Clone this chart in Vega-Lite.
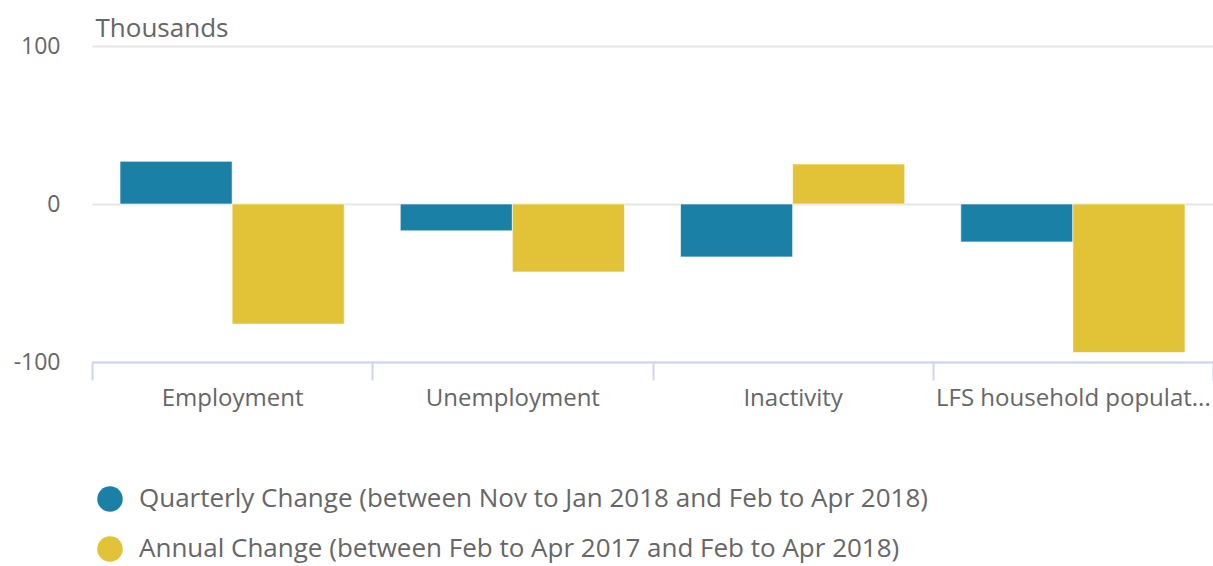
{
  "$schema": "https://vega.github.io/schema/vega-lite/v6.json",
  "autosize": "none",
  "width": 1121,
  "height": 316,
  "padding": {"left": 92, "top": 46, "right": 0, "bottom": 204},
  "background": "white",
  "config": {"font": "Open Sans", "view": {"stroke": null}},
  "data": {
    "values": [
      {"category": "Employment", "series": "Quarterly Change (between Nov to Jan 2018 and Feb to Apr 2018)", "order": 1, "value": 27},
      {"category": "Employment", "series": "Annual Change (between Feb to Apr 2017 and Feb to Apr 2018)", "order": 2, "value": -76},
      {"category": "Unemployment", "series": "Quarterly Change (between Nov to Jan 2018 and Feb to Apr 2018)", "order": 1, "value": -17},
      {"category": "Unemployment", "series": "Annual Change (between Feb to Apr 2017 and Feb to Apr 2018)", "order": 2, "value": -43},
      {"category": "Inactivity", "series": "Quarterly Change (between Nov to Jan 2018 and Feb to Apr 2018)", "order": 1, "value": -33.5},
      {"category": "Inactivity", "series": "Annual Change (between Feb to Apr 2017 and Feb to Apr 2018)", "order": 2, "value": 25.3},
      {"category": "LFS household population", "series": "Quarterly Change (between Nov to Jan 2018 and Feb to Apr 2018)", "order": 1, "value": -24},
      {"category": "LFS household population", "series": "Annual Change (between Feb to Apr 2017 and Feb to Apr 2018)", "order": 2, "value": -94}
    ]
  },
  "mark": {"type": "bar", "stroke": "white", "strokeWidth": 1, "strokeOpacity": 0.6},
  "encoding": {
    "x": {
      "field": "category",
      "type": "nominal",
      "sort": null,
      "scale": {"paddingInner": 0, "paddingOuter": 0},
      "axis": {
        "title": null,
        "labelAngle": 0,
        "labelFontSize": 24,
        "labelColor": "#666666",
        "labelPadding": 6,
        "labelLimit": 300,
        "labelExpr": "datum.label == 'LFS household population' ? 'LFS household populat...' : datum.label",
        "domainColor": "#ccd6eb",
        "domainWidth": 2,
        "tickColor": "#ccd6eb",
        "tickWidth": 2,
        "tickSize": 18,
        "tickBand": "extent",
        "grid": false
      }
    },
    "xOffset": {
      "field": "series",
      "type": "nominal",
      "sort": {"field": "order"},
      "scale": {"paddingInner": 0, "paddingOuter": 0.25}
    },
    "y": {
      "field": "value",
      "type": "quantitative",
      "scale": {"domain": [-100, 100], "nice": false},
      "axis": {
        "values": [-100, 0, 100],
        "labelExpr": "'' + datum.value",
        "title": "Thousands",
        "titleAngle": 0,
        "titleX": 3,
        "titleY": -10,
        "titleAlign": "left",
        "titleBaseline": "alphabetic",
        "titleFontSize": 26,
        "titleFontWeight": "normal",
        "titleColor": "#666666",
        "labelFontSize": 23,
        "labelColor": "#666666",
        "labelPadding": 32,
        "ticks": false,
        "domain": false,
        "grid": true,
        "gridColor": "#e6e6e6",
        "gridWidth": 2
      }
    },
    "color": {
      "field": "series",
      "type": "nominal",
      "sort": {"field": "order"},
      "scale": {
        "domain": ["Quarterly Change (between Nov to Jan 2018 and Feb to Apr 2018)", "Annual Change (between Feb to Apr 2017 and Feb to Apr 2018)"],
        "range": ["#1a80a6", "#e2c237"]
      },
      "legend": {
        "title": null,
        "orient": "none",
        "legendX": 5,
        "legendY": 440,
        "direction": "vertical",
        "symbolType": "circle",
        "symbolSize": 650,
        "symbolStrokeWidth": 0,
        "labelFontSize": 26,
        "labelColor": "#666666",
        "labelLimit": 1100,
        "labelOffset": 16,
        "rowPadding": 24
      }
    }
  }
}
